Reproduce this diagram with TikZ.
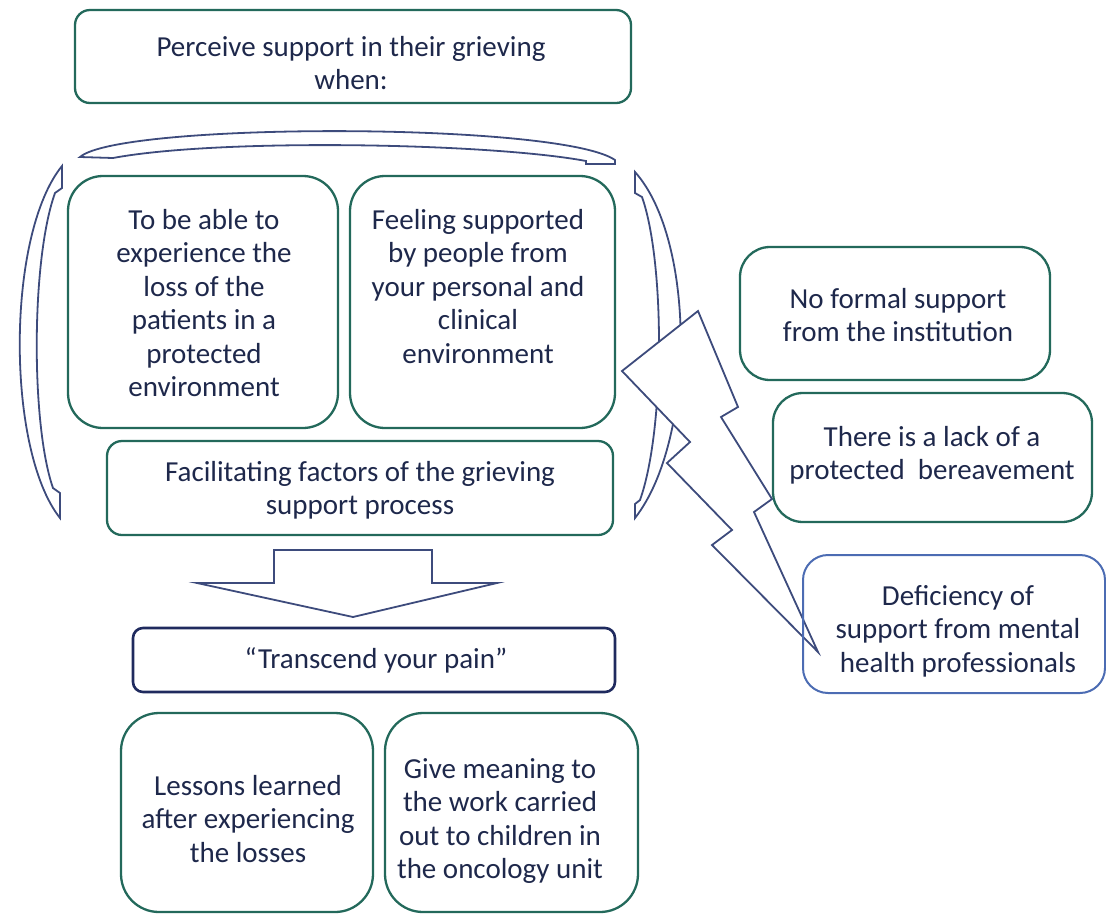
\documentclass[tikz,border=0pt]{standalone}
\usepackage{fontspec}
\setmainfont{Carlito}
\definecolor{ink}{RGB}{30,40,75}
\definecolor{boxgreen}{RGB}{35,105,91}
\definecolor{slate}{RGB}{61,75,124}
\definecolor{navy}{RGB}{31,42,94}
\definecolor{softblue}{RGB}{76,108,179}
\newcommand{\txtblock}[1]{\begin{tabular}[t]{@{}c@{}}#1\end{tabular}}
\begin{document}
\begin{tikzpicture}[x=1pt,y=-1pt,
  gbox/.style={draw=boxgreen, line width=2.3pt, inner sep=0pt},
  nbox/.style={draw=navy, line width=2.6pt, inner sep=0pt, rounded corners=10pt},
  bbox/.style={draw=softblue, line width=2pt, inner sep=0pt, rounded corners=25pt},
  outline/.style={draw=slate, line width=1.8pt, fill=white, line join=miter},
  txt/.style={anchor=base, inner sep=0pt, text=ink, font=\fontsize{29}{33.5}\selectfont}]
\useasboundingbox (0,0) rectangle (1106,914);

% curved brackets around the facilitating factors
\draw[outline] (80,157) .. controls (120,122) and (560,122) .. (615,160)
  -- (615,164) -- (586,164) -- (586,161)
  .. controls (490,143) and (220,138) .. (113,158) -- cycle;
\draw[outline] (62,166) -- (62,188) -- (55,193)
  .. controls (31,260) and (31,425) .. (53,488) -- (60,493) -- (60,518)
  .. controls (6,450) and (6,235) .. (62,166) -- cycle;
\draw[outline] (635,193) -- (635,172)
  .. controls (696,240) and (696,440) .. (635,518) -- (635,504) -- (640,500)
  .. controls (665,430) and (665,262) .. (642,197) -- cycle;

% lightning bolt towards the barriers
\draw[outline] (622,371) -- (698,311) -- (738,407) -- (721,417) -- (772,499)
  -- (754,512) -- (818,652) -- (712,545) -- (732,530) -- (667,463)
  -- (690,442) -- cycle;

% block arrow
\draw[outline] (274,550) -- (432,550) -- (432,583) -- (497,583) -- (353,617)
  -- (197,583) -- (274,583) -- cycle;

% boxes
\node[gbox, rounded corners=15pt, minimum width=556pt, minimum height=93pt] (perceive) at (353,56.5) {};
\node[gbox, rounded corners=35pt, minimum width=270pt, minimum height=252pt] (loss) at (203,302) {};
\node[gbox, rounded corners=35pt, minimum width=265pt, minimum height=252pt] (feeling) at (482.5,302) {};
\node[gbox, rounded corners=15pt, minimum width=506pt, minimum height=94pt] (facil) at (360,488) {};
\node[nbox, minimum width=482pt, minimum height=64pt] (transcend) at (374,660) {};
\node[gbox, rounded corners=38pt, minimum width=252pt, minimum height=199pt] (lessons) at (247,812.5) {};
\node[gbox, rounded corners=38pt, minimum width=253pt, minimum height=199pt] (meaning) at (511.5,812.5) {};
\node[gbox, rounded corners=30pt, minimum width=310pt, minimum height=133pt] (noformal) at (895,313.5) {};
\node[gbox, rounded corners=30pt, minimum width=319pt, minimum height=129pt] (lack) at (932.5,457.5) {};
\node[bbox, minimum width=302pt, minimum height=138pt] (deficiency) at (954,624) {};

% texts
\node[txt] (t-perceive) at (351,56) {\txtblock{Perceive support in their grieving\\when:}};
\node[txt] (t-loss) at (204,229) {\txtblock{To be able to\\experience the\\loss of the\\patients in a\\protected\\environment}};
\node[txt] (t-feeling) at (478,229) {\txtblock{Feeling supported\\by people from\\your personal and\\clinical\\environment}};
\node[txt] (t-facil) at (360,481) {\txtblock{Facilitating factors of the grieving\\support process}};
\node[txt] (t-transcend) at (376,668) {“Transcend your pain”};
\node[txt] (t-lessons) at (248,795) {\txtblock{Lessons learned\\after experiencing\\the losses}};
\node[txt] (t-meaning) at (500,778) {\txtblock{Give meaning to\\the work carried\\out to children in\\the oncology unit}};
\node[txt] (t-noformal) at (898,308) {\txtblock{No formal support\\from the institution}};
\node[txt] (t-lack) at (932,446) {\txtblock{There is a lack of a\\protected~~bereavement}};
\node[txt] (t-deficiency) at (958,605) {\txtblock{Deficiency of\\support from mental\\health professionals}};
\end{tikzpicture}
\end{document}
